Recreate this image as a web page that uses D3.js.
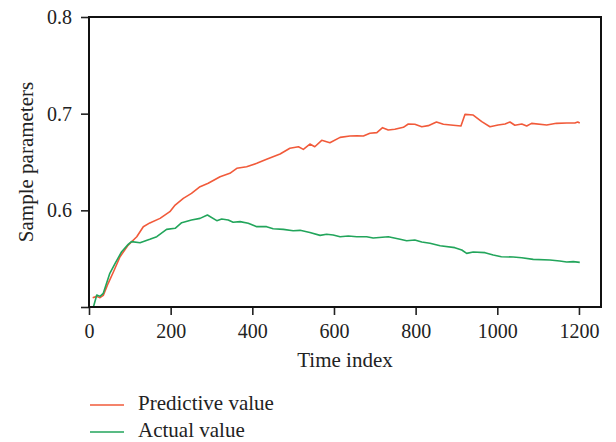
<!DOCTYPE html>
<html>
<head>
<meta charset="utf-8">
<script src="https://cdn.jsdelivr.net/npm/d3@7"></script>
<style>
  html, body { margin: 0; padding: 0; background: #fff; }
  svg { display: block; }
  svg text { font-family: "Liberation Serif", "Times New Roman", serif !important; }
</style>
</head>
<body>
<svg id="chart" width="616" height="442"></svg>
<script>
// ---- data ----
const predTime = [9, 19, 27, 35, 47, 60, 76, 96, 117, 133, 149, 174, 198, 211, 231, 251, 272, 292, 321, 345, 362, 386, 411, 435, 468, 492, 513, 525, 541, 553, 570, 590, 615, 639, 656, 672, 688, 705, 719, 733, 749, 770, 782, 798, 815, 831, 851, 868, 892, 911, 921, 941, 962, 982, 1002, 1019, 1031, 1043, 1060, 1072, 1084, 1121, 1145, 1170, 1190, 1197, 1202];
const predValue = [0.5096, 0.511, 0.5096, 0.512, 0.5245, 0.5365, 0.552, 0.564, 0.5727, 0.583, 0.587, 0.5917, 0.5986, 0.6055, 0.6124, 0.6176, 0.6245, 0.628, 0.6348, 0.6383, 0.6435, 0.6451, 0.6486, 0.6528, 0.6583, 0.6642, 0.6658, 0.6631, 0.6686, 0.6658, 0.6724, 0.670, 0.6755, 0.6769, 0.6772, 0.6769, 0.6797, 0.6804, 0.6855, 0.6831, 0.6838, 0.6859, 0.6893, 0.689, 0.6865, 0.6876, 0.6914, 0.689, 0.688, 0.6872, 0.6993, 0.6986, 0.6917, 0.6865, 0.6883, 0.6893, 0.6914, 0.688, 0.6893, 0.6872, 0.690, 0.6883, 0.690, 0.6903, 0.6903, 0.6914, 0.6903];

const actTime = [11, 19, 27, 35, 51, 64, 80, 96, 104, 125, 149, 166, 190, 211, 227, 251, 272, 290, 313, 325, 341, 353, 370, 390, 411, 435, 451, 476, 500, 517, 541, 566, 582, 598, 615, 635, 656, 680, 696, 733, 762, 778, 798, 815, 835, 860, 896, 913, 925, 941, 970, 990, 1010, 1039, 1060, 1088, 1129, 1153, 1170, 1186, 1202];
const actValue = [0.5003, 0.5124, 0.511, 0.5141, 0.5348, 0.5452, 0.5572, 0.5648, 0.5676, 0.5665, 0.570, 0.5727, 0.5803, 0.5814, 0.5872, 0.590, 0.5917, 0.5952, 0.5893, 0.591, 0.590, 0.5876, 0.5883, 0.5866, 0.5831, 0.5831, 0.581, 0.5803, 0.5789, 0.5793, 0.577, 0.5741, 0.5752, 0.5745, 0.5727, 0.5734, 0.5727, 0.5727, 0.5714, 0.5727, 0.570, 0.5686, 0.5693, 0.5672, 0.5659, 0.5634, 0.5614, 0.559, 0.5555, 0.5569, 0.5562, 0.5538, 0.552, 0.5517, 0.551, 0.5493, 0.5486, 0.5476, 0.5466, 0.5469, 0.5462];

const xTicks = [0, 200, 400, 600, 800, 1000, 1200];
const yTicks = [0.5, 0.6, 0.7, 0.8];
const yTickLabels = ["", "0.6", "0.7", "0.8"];
const seriesNames = ["Predictive value", "Actual value"];
const seriesColors = ["#f15a3a", "#22a55b"];
const xTitle = "Time index";
const yTitle = "Sample parameters";

// ---- layout ----
const W = 616, H = 442;
const m = { left: 89, right: 15, top: 17, bottom: 135 };
const iw = W - m.left - m.right, ih = H - m.top - m.bottom;

const svg = d3.select("#chart");
const g = svg.append("g").attr("transform", `translate(${m.left},${m.top})`);

const x = d3.scaleLinear().domain([0, 1254]).range([0, iw]);
const y = d3.scaleLinear().domain([0.5, 0.8]).range([ih, 0]);

// axes
const xAxis = g.append("g").attr("transform", `translate(0,${ih})`)
  .call(d3.axisBottom(x).tickValues(xTicks).tickFormat(d3.format("d")).tickSizeInner(8).tickSizeOuter(0).tickPadding(8.5));
const yAxis = g.append("g")
  .call(d3.axisLeft(y).tickValues(yTicks).tickFormat((d, i) => yTickLabels[i]).tickSizeInner(8).tickSizeOuter(0).tickPadding(9));

[xAxis, yAxis].forEach(a => {
  a.attr("font-family", null).attr("font-size", 20);
  a.select(".domain").remove();
  a.selectAll(".tick line").attr("stroke", "#222").attr("stroke-width", 1.6);
  a.selectAll(".tick text").attr("fill", "#222").attr("font-size", 20);
});

// series
const series = [
  { t: predTime, v: predValue },
  { t: actTime, v: actValue }
];
const line = d3.line().x(d => x(d[0])).y(d => y(d[1]));
series.forEach((s, i) => {
  g.append("path")
    .datum(d3.zip(s.t, s.v))
    .attr("fill", "none")
    .attr("stroke", seriesColors[i])
    .attr("stroke-width", 1.6)
    .attr("stroke-linejoin", "round")
    .attr("d", line);
});

// frame
g.append("rect").attr("x", 0).attr("y", 0).attr("width", iw).attr("height", ih)
  .attr("fill", "none").attr("stroke", "#111").attr("stroke-width", 2);

// axis titles
svg.append("text").attr("x", m.left + iw / 2).attr("y", 367)
  .attr("text-anchor", "middle").attr("font-size", 21).attr("fill", "#222").text(xTitle);
svg.append("text").attr("transform", `translate(33,${m.top + ih / 2}) rotate(-90)`)
  .attr("text-anchor", "middle").attr("font-size", 21).attr("fill", "#222").text(yTitle);

// legend
const leg = svg.append("g");
seriesNames.forEach((name, i) => {
  const ly = 405 + i * 27;
  leg.append("line").attr("x1", 90).attr("x2", 124).attr("y1", ly).attr("y2", ly)
    .attr("stroke", seriesColors[i]).attr("stroke-width", 1.6);
  leg.append("text").attr("x", 138).attr("y", ly + 5).attr("font-size", 21)
    .attr("fill", "#222").text(name);
});
</script>
</body>
</html>
